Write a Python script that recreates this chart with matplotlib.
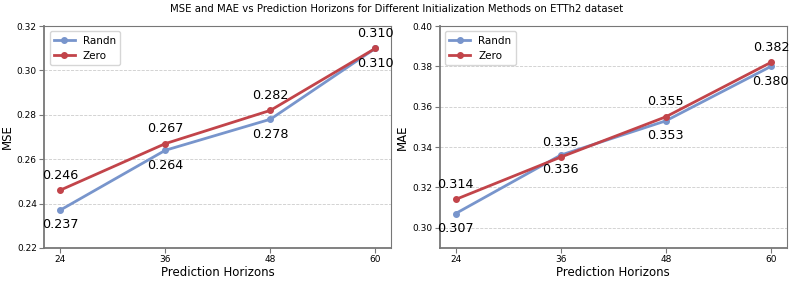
import matplotlib
matplotlib.use('Agg')
import matplotlib.pyplot as plt

horizons = [24, 36, 48, 60]
mse_randn = [0.237, 0.264, 0.278, 0.310]
mse_zero = [0.246, 0.267, 0.282, 0.310]
mae_randn = [0.307, 0.336, 0.353, 0.380]
mae_zero = [0.314, 0.335, 0.355, 0.382]

randn_color = '#7895cc'
zero_color = '#c2444a'

fig, axes = plt.subplots(1, 2, figsize=(7.93, 2.81), dpi=100)

panels = [
    (axes[0], mse_randn, mse_zero, 'MSE', (0.22, 0.32), [0.22, 0.24, 0.26, 0.28, 0.30, 0.32]),
    (axes[1], mae_randn, mae_zero, 'MAE', (0.29, 0.40), [0.30, 0.32, 0.34, 0.36, 0.38, 0.40]),
]

for ax, randn, zero, ylabel, ylim, yticks in panels:
    ax.plot(horizons, randn, marker='o', markersize=4, linewidth=2, color=randn_color, label='Randn')
    ax.plot(horizons, zero, marker='o', markersize=4, linewidth=2, color=zero_color, label='Zero')
    for x, r, z in zip(horizons, randn, zero):
        ax.annotate(f'{z:.3f}', (x, z), textcoords='offset points', xytext=(0, 6),
                    ha='center', va='bottom', fontsize=9.2)
        ax.annotate(f'{r:.3f}', (x, r), textcoords='offset points', xytext=(0, -6),
                    ha='center', va='top', fontsize=9.2)
    ax.set_ylim(*ylim)
    ax.set_yticks(yticks)
    ax.set_xticks(horizons)
    ax.tick_params(labelsize=6.5, color='#777777', pad=2)
    ax.set_xlabel('Prediction Horizons', fontsize=8.5, labelpad=1)
    ax.set_ylabel(ylabel, fontsize=8.5, labelpad=2)
    ax.grid(axis='y', linestyle='--', color='#cccccc', linewidth=0.6)
    ax.set_axisbelow(True)
    for name, s in ax.spines.items():
        s.set_color('#777777')
        s.set_linewidth(1.3 if name in ('left', 'bottom') else 0.8)
    ax.legend(loc='upper left', fontsize=7.5)

fig.suptitle('MSE and MAE vs Prediction Horizons for Different Initialization Methods on ETTh2 dataset',
             fontsize=7.3, y=0.985)
fig.subplots_adjust(left=0.056, right=0.992, top=0.907, bottom=0.118, wspace=0.14)
fig.savefig('out.png', dpi=100)
